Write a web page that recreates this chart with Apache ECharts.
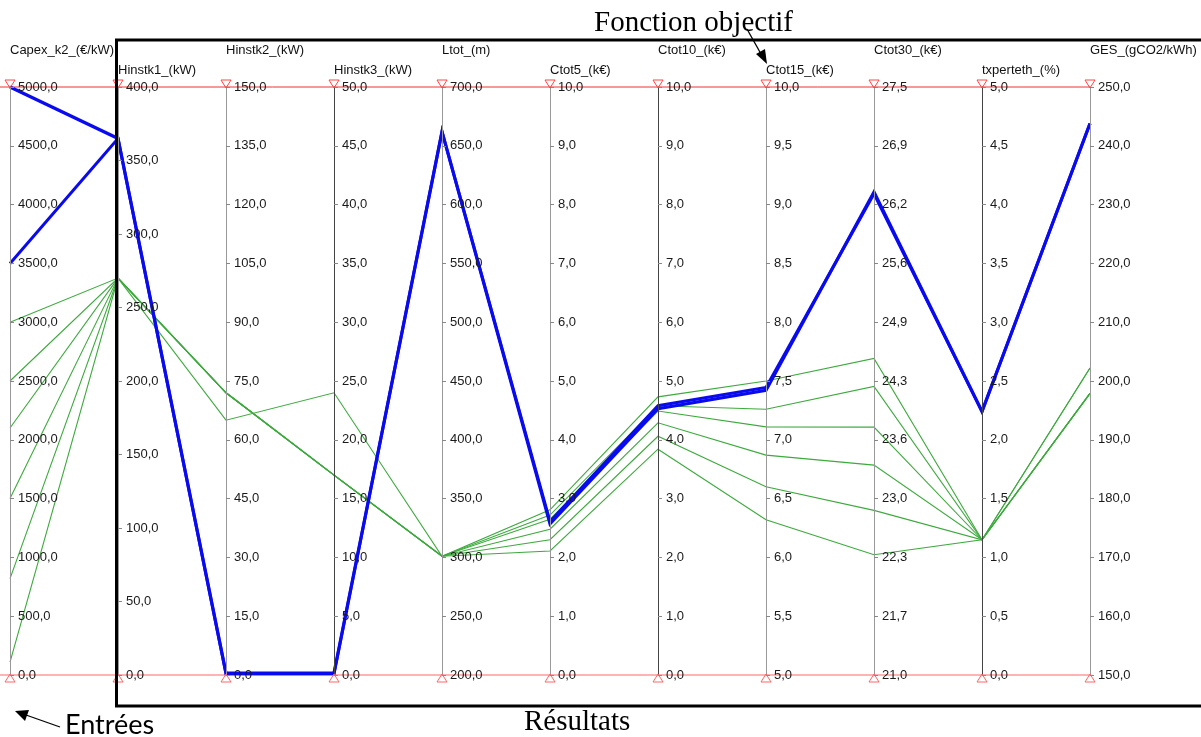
<!DOCTYPE html>
<html><head><meta charset="utf-8">
<script src="https://cdn.jsdelivr.net/npm/echarts@6/dist/echarts.min.js"></script>
<style>html,body{margin:0;padding:0;background:#fff}#c{width:1201px;height:737px}</style>
</head><body><div id="c"></div>
<script>
// ---- data ----
const axisNames = ['Capex_k2_(€/kW)','Hinstk1_(kW)','Hinstk2_(kW)','Hinstk3_(kW)','Ltot_(m)','Ctot5_(k€)','Ctot10_(k€)','Ctot15_(k€)','Ctot30_(k€)','txperteth_(%)','GES_(gCO2/kWh)'];
const axisMin  = [0, 0, 0, 0, 200, 0, 0, 5, 21, 0, 150];
const axisMax  = [5000, 400, 150, 50, 700, 10, 10, 10, 27.5, 5, 250];
const axisStep = [500, 50, 15, 5, 50, 1, 1, 0.5, 0.65, 0.5, 10];

const green1 = [3000, 270, 65, 24, 301, 2.81, 4.73, 7.50, 24.50, 1.15, 202.2];
const green2 = [2500, 270, 72, 17, 301, 2.72, 4.58, 7.26, 24.19, 1.15, 202.2];
const green3 = [2100, 270, 72, 17, 301, 2.65, 4.49, 7.11, 23.74, 1.15, 197.9];
const green4 = [1500, 270, 72, 17, 301, 2.48, 4.29, 6.87, 23.32, 1.15, 197.9];
const green5 = [820, 270, 72, 17, 301, 2.30, 4.06, 6.60, 22.82, 1.15, 197.9];
const green6 = [110, 270, 72, 17, 301, 2.11, 3.84, 6.32, 22.33, 1.15, 197.9];
const blue1  = [5000, 365, 0.5, 0.17, 662, 2.57, 4.53, 7.42, 26.34, 2.24, 243.8];
const blue2  = [3500, 365, 0.3, 0.10, 662, 2.61, 4.58, 7.445, 26.32, 2.24, 243.8];

// ---- layout / style ----
const W = 1201, H = 737, PL = 10, PR = 111, PT = 87, PB = 62;
const n = axisNames.length;
const ax = i => PL + i * (W - PL - PR) / (n - 1);
const topY = PT, botY = H - PB;
const darkAxes = [3, 6, 9];
const FONT = '"Liberation Sans", Arial, sans-serif';
const fmt = v => (Math.round(v * 10 + 1e-6) / 10).toFixed(1).replace('.', ',');

const parallelAxis = axisNames.map((name, i) => ({
  dim: i, name,
  min: axisMin[i], max: axisMax[i], interval: axisStep[i],
  nameLocation: 'end',
  nameGap: i % 2 === 0 ? 37 : 17,
  nameTextStyle: { align: 'left', verticalAlign: 'middle', fontSize: 13, color: '#111', fontFamily: FONT },
  axisLine: { lineStyle: { color: darkAxes.includes(i) ? '#444' : '#999', width: 1 } },
  axisTick: { show: true, length: 4, lineStyle: { color: '#888' } },
  axisLabel: { fontSize: 13, color: '#1a1a1a', fontFamily: FONT, margin: 8, formatter: fmt, showMinLabel: true, showMaxLabel: true },
  splitLine: { show: false }
}));

const mkSeries = (data, color, width, z) => ({
  type: 'parallel', silent: true, z,
  lineStyle: { color, width, opacity: 1 },
  emphasis: { disabled: true },
  inactiveOpacity: 1, activeOpacity: 1,
  data: [data]
});

const graphics = [];
// red boundary lines
graphics.push({ type: 'line', z: 1, shape: { x1: 0, y1: topY, x2: ax(n - 1), y2: topY }, style: { stroke: '#ee3333', lineWidth: 1 } });
graphics.push({ type: 'line', z: 1, shape: { x1: 0, y1: botY, x2: ax(n - 1), y2: botY }, style: { stroke: '#ff9a9a', lineWidth: 1.5 } });
// filter triangles
for (let i = 0; i < n; i++) {
  const x = ax(i);
  graphics.push({ type: 'polygon', z: 50, shape: { points: [[x - 5, topY - 7], [x + 5, topY - 7], [x, topY + 1]] }, style: { fill: 'rgba(255,255,255,0)', stroke: '#ff4444', lineWidth: 1 } });
  graphics.push({ type: 'polygon', z: 50, shape: { points: [[x - 5, botY + 7], [x + 5, botY + 7], [x, botY - 1]] }, style: { fill: 'rgba(255,255,255,0)', stroke: '#ff6666', lineWidth: 1 } });
}
// black box (Résultats)
graphics.push({ type: 'rect', z: 60, shape: { x: ax(1) - 1.5, y: 40, width: 1200, height: 666 }, style: { fill: 'rgba(0,0,0,0)', stroke: '#000', lineWidth: 3 } });
// annotations
graphics.push({ type: 'text', z: 60, style: { x: 594, y: 23, text: 'Fonction objectif', font: '29px "Liberation Serif", "Times New Roman", serif', fill: '#000', verticalAlign: 'middle' } });
graphics.push({ type: 'line', z: 60, shape: { x1: 747, y1: 29, x2: 761, y2: 54 }, style: { stroke: '#000', lineWidth: 1.3 } });
graphics.push({ type: 'polygon', z: 60, shape: { points: [[767, 64], [756, 54], [765, 49]] }, style: { fill: '#000' } });
graphics.push({ type: 'text', z: 60, style: { x: 524, y: 722, text: 'Résultats', font: '29px "Liberation Serif", "Times New Roman", serif', fill: '#000', verticalAlign: 'middle' } });
graphics.push({ type: 'text', z: 60, style: { x: 65, y: 725, text: 'Entrées', font: '27px Lato, "Open Sans", sans-serif', fill: '#000', verticalAlign: 'middle' } });
graphics.push({ type: 'line', z: 60, shape: { x1: 60, y1: 727, x2: 26, y2: 715 }, style: { stroke: '#000', lineWidth: 1.3 } });
graphics.push({ type: 'polygon', z: 60, shape: { points: [[15, 711], [29, 710], [25, 721]] }, style: { fill: '#000' } });

const chart = echarts.init(document.getElementById('c'), null, { renderer: 'canvas' });
chart.setOption({
  backgroundColor: '#fff',
  animation: false,
  parallel: { left: PL, right: PR, top: PT, bottom: PB, layout: 'horizontal' },
  parallelAxis,
  series: [
    mkSeries(green1, '#3daa3d', 1.1, 2), mkSeries(green2, '#3daa3d', 1.1, 2),
    mkSeries(green3, '#3daa3d', 1.1, 2), mkSeries(green4, '#3daa3d', 1.1, 2),
    mkSeries(green5, '#3daa3d', 1.1, 2), mkSeries(green6, '#3daa3d', 1.1, 2),
    mkSeries(blue1, '#0a0af0', 3.2, 3), mkSeries(blue2, '#0a0af0', 3, 3)
  ],
  graphic: graphics
});
</script></body></html>
